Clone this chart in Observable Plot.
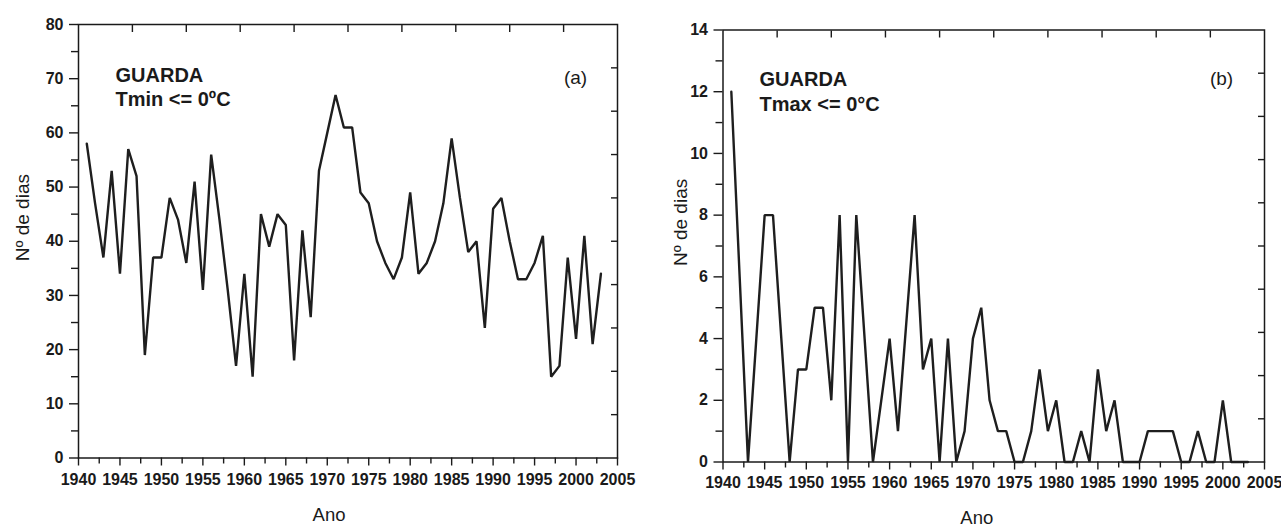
<!DOCTYPE html>
<html><head><meta charset="utf-8">
<script src="https://cdn.jsdelivr.net/npm/d3@7"></script>
<script src="https://cdn.jsdelivr.net/npm/@observablehq/plot@0.6"></script>
<style>
body{margin:0;background:#fff;width:1281px;height:529px;overflow:hidden;position:relative}
#a{position:absolute;left:0;top:0}
#b{position:absolute;left:640px;top:0}
</style></head><body><div id="a"></div><div id="b"></div>
<script>
const years = [1941,1942,1943,1944,1945,1946,1947,1948,1949,1950,
  1951,1952,1953,1954,1955,1956,1957,1958,1959,1960,
  1961,1962,1963,1964,1965,1966,1967,1968,1969,1970,
  1971,1972,1973,1974,1975,1976,1977,1978,1979,1980,
  1981,1982,1983,1984,1985,1986,1987,1988,1989,1990,
  1991,1992,1993,1994,1995,1996,1997,1998,1999,2000,
  2001,2002,2003];
const tmin = [58,47,37,53,34,57,52,19,37,37,
  48,44,36,51,31,56,44,31,17,34,
  15,45,39,45,43,18,42,26,53,60,
  67,61,61,49,47,40,36,33,37,49,
  34,36,40,47,59,48,38,40,24,46,
  48,40,33,33,36,41,15,17,37,22,
  41,21,34];
const tmax = [12,6,0,4,8,8,4,0,3,3,
  5,5,2,8,0,8,4,0,2,4,
  1,4.5,8,3,4,0,4,0,1,4,
  5,2,1,1,0,0,1,3,1,2,
  0,0,1,0,3,1,2,0,0,0,
  1,1,1,1,0,0,1,0,0,2,
  0,0,0];
const xMajor = [1940,1945,1950,1955,1960,1965,1970,1975,1980,1985,1990,1995,2000,2005];
const xMinor = [1942.5,1947.5,1952.5,1957.5,1962.5,1967.5,1972.5,1977.5,1982.5,1987.5,1992.5,1997.5,2002.5];
const xTop = [1946.5,1953,1959.5,1966,1972.5,1979,1985.5,1992,1998.5];
const yMajorA = [0,10,20,30,40,50,60,70,80];
const yMinorA = [5,15,25,35,45,55,65,75];
const yRightA = [8,16,24,32,40,48,56,64,72];
const yMajorB = [0,2,4,6,8,10,12,14];
const yMinorB = [1,3,5,7,9,11,13];
const yRightB = [1.4,2.8,4.2,5.6,7,8.4,9.8,11.2,12.6];
const station = "GUARDA";
const varA = "Tmin <= 0ºC";
const varB = "Tmax <= 0°C";
const yTitle = "Nº de dias";
const xTitle = "Ano";

const dataA = years.map((y,i)=>({year:y, v:tmin[i]}));
const dataB = years.map((y,i)=>({year:y, v:tmax[i]}));

function chart(o){
  const fmt = d => String(d);
  const tickFont = {fontFamily:"Liberation Sans, Arial, sans-serif", fontWeight:"bold", fontSize:o.tickFs};
  return Plot.plot({
    width:o.width, height:529,
    marginLeft:o.ml, marginRight:o.mr, marginTop:o.mt, marginBottom:o.mb,
    style:{background:"transparent", color:"#1a1a1a", overflow:"visible"},
    x:{domain:[1940,2005], label:null},
    y:{domain:o.yDomain, label:null},
    marks:[
      Plot.frame({stroke:"#1a1a1a", strokeWidth:1.5}),
      Plot.axisY({ticks:o.yMajor, tickSize:9, tickPadding:o.yPad, tickFormat:fmt, strokeWidth:1.4, ...tickFont}),
      Plot.axisY({ticks:o.yMinor, tickSize:7, tickFormat:()=>"", fill:"none", strokeWidth:1.4}),
      Plot.axisY({anchor:"right", ticks:o.yRight, tickSize:-7, tickFormat:()=>"", fill:"none", strokeWidth:1.4}),
      Plot.axisX({ticks:xMajor, tickSize:8, tickPadding:o.xPad, tickFormat:fmt, strokeWidth:1.4, ...tickFont}),
      Plot.axisX({ticks:xMinor, tickSize:6, tickFormat:()=>"", fill:"none", strokeWidth:1.4}),
      Plot.axisX({anchor:"top", ticks:xTop, tickSize:-7, tickFormat:()=>"", fill:"none", strokeWidth:1.4}),
      Plot.line(o.data, {x:"year", y:"v", stroke:"#1e1e1e", strokeWidth:2.4, strokeLinejoin:"miter"}),
      Plot.text([station + "\n" + o.varText], {frameAnchor:"top-left", dx:o.labDx, dy:o.labDy, textAnchor:"start", lineAnchor:"top", lineHeight:1.22, fontFamily:"Liberation Sans, Arial, sans-serif", fontWeight:"bold", fontSize:20, fill:"#1a1a1a"}),
      Plot.text([o.panel], {frameAnchor:"top-right", dx:o.panDx, dy:o.panDy, textAnchor:"middle", fontFamily:"Liberation Sans, Arial, sans-serif", fontSize:19, fill:"#1a1a1a"}),
      Plot.text([yTitle], {frameAnchor:"left", rotate:-90, dx:o.ytDx, dy:o.ytDy, fontFamily:"Liberation Sans, Arial, sans-serif", fontSize:19, fill:"#1a1a1a"}),
      Plot.text([xTitle], {frameAnchor:"bottom", dx:o.xtDx, dy:o.xtDy, fontFamily:"Liberation Sans, Arial, sans-serif", fontSize:18.5, fill:"#1a1a1a"})
    ]
  });
}

document.getElementById("a").appendChild(chart({
  data:dataA, width:640, ml:78, mr:23, mt:24, mb:71.5,
  yDomain:[0,80], yMajor:yMajorA, yMinor:yMinorA, yRight:yRightA,
  yPad:6, xPad:8, tickFs:16,
  varText:varA, panel:"(a)",
  labDx:37, labDy:40, panDx:-42, panDy:46,
  ytDx:-56, ytDy:20, xtDx:-19, xtDy:63
}));
document.getElementById("b").appendChild(chart({
  data:dataB, width:641, ml:82.5, mr:17, mt:29.5, mb:67.5,
  yDomain:[0,14], yMajor:yMajorB, yMinor:yMinorB, yRight:yRightB,
  yPad:6, xPad:7, tickFs:16,
  varText:varB, panel:"(b)",
  labDx:36.5, labDy:39, panDx:-43, panDy:41,
  ytDx:-42.5, ytDy:20, xtDx:-17, xtDy:62
}));
</script></body></html>
